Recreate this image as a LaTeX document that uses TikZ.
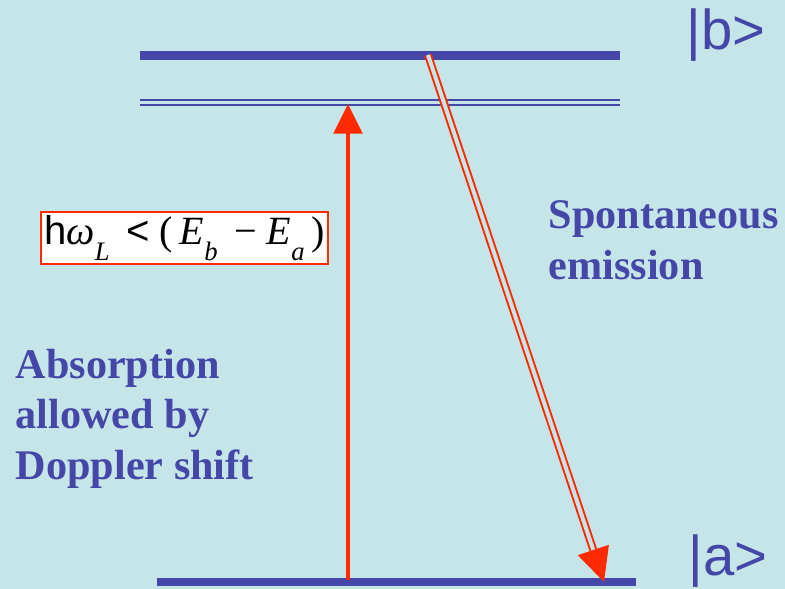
\documentclass[tikz,border=0pt]{standalone}
\usepackage{fontspec}
\setmainfont{Liberation Serif}
\setsansfont{Liberation Sans}
\usetikzlibrary{arrows.meta, positioning}
\definecolor{cbg}{HTML}{C5E5E8}
\definecolor{cblue}{HTML}{4447A8}
\definecolor{cred}{HTML}{FF2A00}
\newcommand{\lowsub}[1]{\raisebox{-0.4em}{\fontsize{19}{19}\selectfont\itshape #1}}
\tikzset{
  every picture/.style={line width=1.2pt},
  level/.style={draw=cblue, line width=#1},
  level/.default=1.5pt,
  absorb/.style={draw=cred, line width=3.5pt, -{Triangle[length=21pt, width=20pt]}},
  emit/.style={draw=cred, line width=1.4pt, double=cbg, double distance=2.8pt, -{Triangle[length=24pt, width=23pt]}},
  ket/.style={font=\sffamily\fontsize{40}{40}\selectfont, text=cblue, inner sep=0pt},
  note/.style={font=\bfseries\fontsize{30}{36}\selectfont, text=cblue, align=left, inner sep=0pt},
  formula/.style={draw=cred, fill=white, line width=1pt, minimum width=7.175cm, minimum height=1.3cm, inner sep=0pt, font=\fontsize{28.5}{28.5}\selectfont},
}
\begin{document}
\begin{tikzpicture}[x=0.025cm, y=-0.025cm]
  \fill[cbg] (0,0) rectangle (785,589);
  \useasboundingbox (0,0) rectangle (785,589);
  % levels
  \coordinate (b0) at (140,55.5); \coordinate (b1) at (620,55.5);
  \draw[level=6.2pt] (b0) -- (b1);
  \foreach \y in {100.3,105.3} {\draw[level=1.7pt] (140,\y) -- (620,\y);}
  \coordinate (a0) at (157,582); \coordinate (a1) at (636,582);
  \draw[level=5pt] (a0) -- (a1);
  \node[ket, anchor=base west] (ketb) at (686,50) {|b>};
  \node[ket, anchor=base west] (keta) at (688,576) {|a>};
  % absorption
  \coordinate (up0) at (348,580); \coordinate (up1) at (348,104);
  \draw[absorb] (up0) -- (up1);
  \node[formula] (cond) at (184.5,238) {{\sffamily h}\textit{ω}\lowsub{L}\, {\sffamily <} (\,\textit{E}\lowsub{b}\, − \textit{E}\lowsub{a}\,)};
  \node[note, anchor=north west] (absnote) at (15,348) {Absorption\\allowed by\\Doppler shift};
  % spontaneous emission
  \coordinate (dn0) at (428,55); \coordinate (dn1) at (604,582);
  \draw[emit] (dn0) -- (dn1);
  \node[note, anchor=north west] (spont) at (548,200) {Spontaneous\\emission};
\end{tikzpicture}
\end{document}
